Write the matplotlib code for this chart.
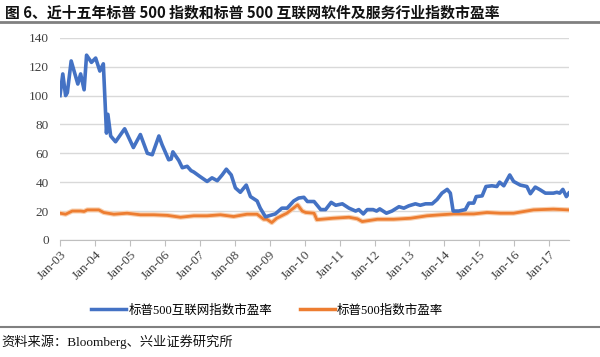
import matplotlib
matplotlib.use("Agg")
import matplotlib.pyplot as plt
from matplotlib.lines import Line2D

# 标普500互联网软件及服务行业指数市盈率 (x = decimal year)
net_t = [2003.00, 2003.08, 2003.16, 2003.21, 2003.32, 2003.51, 2003.59, 2003.69, 2003.76, 2003.90,
         2004.02, 2004.14, 2004.24, 2004.33, 2004.37, 2004.45, 2004.59, 2004.85, 2005.10, 2005.30,
         2005.50, 2005.64, 2005.83, 2005.92, 2006.11, 2006.18, 2006.23, 2006.40, 2006.50, 2006.64,
         2006.75, 2006.83, 2007.00, 2007.21, 2007.35, 2007.50, 2007.64, 2007.76, 2007.90, 2008.02,
         2008.16, 2008.33, 2008.45, 2008.64, 2008.73, 2008.88, 2009.02, 2009.16, 2009.35, 2009.50,
         2009.69, 2009.83, 2009.98, 2010.08, 2010.27, 2010.46, 2010.60, 2010.76, 2010.89, 2011.08,
         2011.27, 2011.46, 2011.55, 2011.68, 2011.79, 2011.96, 2012.06, 2012.15, 2012.34, 2012.50,
         2012.70, 2012.84, 2012.98, 2013.17, 2013.31, 2013.46, 2013.65, 2013.79, 2013.93, 2014.08,
         2014.17, 2014.25, 2014.41, 2014.60, 2014.70, 2014.84, 2014.91, 2015.08, 2015.19, 2015.36,
         2015.50, 2015.58, 2015.70, 2015.87, 2015.98, 2016.17, 2016.36, 2016.46, 2016.60, 2016.74,
         2016.89, 2017.12, 2017.22, 2017.30, 2017.39, 2017.49, 2017.56]
net_pe = [100, 115, 100, 102, 124, 108, 115, 104, 128, 123,
          126, 117, 122, 74, 87, 72, 68, 77, 64, 73,
          60, 59, 72, 66, 55.5, 56, 61, 55, 50, 51,
          48, 47, 44, 40.5, 43, 41, 45, 49, 45, 36,
          33, 38, 30, 27, 22, 16, 17, 18, 22, 22,
          27, 29, 29.5, 26.6, 26.6, 21, 21, 26, 24, 25,
          22, 20, 21, 18, 21, 21, 20, 21.5, 18.5, 20,
          23, 22, 23.6, 25, 24, 25, 25, 28, 32.4, 35,
          32.4, 20, 20, 21, 25.5, 25.5, 30, 30.5, 37, 37.5,
          37, 40, 37.5, 45, 40.5, 38, 37, 32, 36.6, 34.7,
          32.4, 32.4, 33, 32.4, 35, 30, 32.4]

# 标普500指数市盈率
spx_t = [2003.00, 2003.16, 2003.35, 2003.59, 2003.69, 2003.78, 2004.11, 2004.25, 2004.54, 2004.92,
         2005.30, 2005.69, 2006.07, 2006.45, 2006.83, 2007.21, 2007.59, 2007.97, 2008.35, 2008.64,
         2008.83, 2008.92, 2009.06, 2009.20, 2009.49, 2009.68, 2009.80, 2009.93, 2010.03, 2010.27,
         2010.35, 2010.80, 2011.27, 2011.51, 2011.65, 2012.08, 2012.55, 2013.03, 2013.50, 2013.89,
         2014.27, 2014.84, 2015.22, 2015.60, 2015.98, 2016.55, 2017.12, 2017.56]
spx_pe = [18.5, 17.8, 20, 20, 19.7, 20.8, 20.8, 19, 17.8, 18.5,
          17.4, 17.4, 17, 15.7, 16.7, 16.7, 17.4, 16.2, 17.8, 17.8,
          14.3, 14.3, 12, 15, 18.5, 22, 24.3, 20, 19, 18.5,
          14, 15, 15.7, 14.6, 12.7, 14.3, 14.3, 15, 16.7, 17.4,
          18, 18, 19, 18.5, 18.5, 20.8, 21.3, 20.8]

years = list(range(2003, 2018))
year_labels = ["Jan-%02d" % (y % 100) for y in years]

title = "图 6、近十五年标普 500 指数和标普 500 互联网软件及服务行业指数市盈率"
source = "资料来源：Bloomberg、兴业证券研究所"
net_name = "标普500互联网指数市盈率"
spx_name = "标普500指数市盈率"

blue = "#4472C4"
orange = "#ED7D31"
serif_cjk = ["Liberation Serif", "Noto Sans CJK SC"]

fig = plt.figure(figsize=(6, 3.57), dpi=100)
ax = fig.add_axes([0.1, 0.328, 0.848, 0.566])

ax.plot(net_t, net_pe, color=blue, lw=2.6, solid_joinstyle="round", zorder=3)
ax.plot(spx_t, spx_pe, color="#f8cfae", lw=3.6, solid_joinstyle="round", zorder=1)
ax.plot(spx_t, spx_pe, color=orange, lw=2.0, solid_joinstyle="round", zorder=2)

ax.set_xlim(2003, 2017.56)
ax.set_ylim(0, 140)
ax.set_yticks(range(0, 141, 20))
ax.set_xticks(years)
ax.set_xticklabels(year_labels, rotation=45, ha="right", rotation_mode="anchor",
                   fontsize=9.5, family="Liberation Serif", color="#404040")
for lab in ax.get_yticklabels():
    lab.set_family("Liberation Serif")
    lab.set_fontsize(9.5)
    lab.set_color("#404040")

ax.grid(axis="y", color="#d9d9d9", lw=1)
ax.set_axisbelow(True)
for s in ["top", "right", "left"]:
    ax.spines[s].set_visible(False)
ax.spines["bottom"].set_color("#bfbfbf")
ax.tick_params(axis="y", length=0, pad=8)
ax.tick_params(axis="x", length=4, color="#bfbfbf", pad=2)

handles = [Line2D([], [], color=blue, lw=2.5), Line2D([], [], color=orange, lw=2.5)]
fig.legend(handles, [net_name, spx_name], loc="center", bbox_to_anchor=(0.445, 0.13),
           ncol=2, frameon=False, handlelength=2.8, columnspacing=2.2, handletextpad=0.2,
           prop={"family": serif_cjk, "size": 9})

fig.text(0.008, 0.965, title, fontsize=10.7, fontweight="bold",
         family=["Noto Sans CJK SC", "DejaVu Sans"], va="center", ha="left", color="#111111")
fig.add_artist(Line2D([0, 1], [0.939, 0.939], transform=fig.transFigure, color="#808080", lw=2))
fig.add_artist(Line2D([0, 1], [0.085, 0.085], transform=fig.transFigure, color="#808080", lw=1.5))
fig.text(0.003, 0.043, source, fontsize=9.5, family=serif_cjk, va="center", ha="left", color="#111111")

fig.savefig("out.png", dpi=100, facecolor="white")
